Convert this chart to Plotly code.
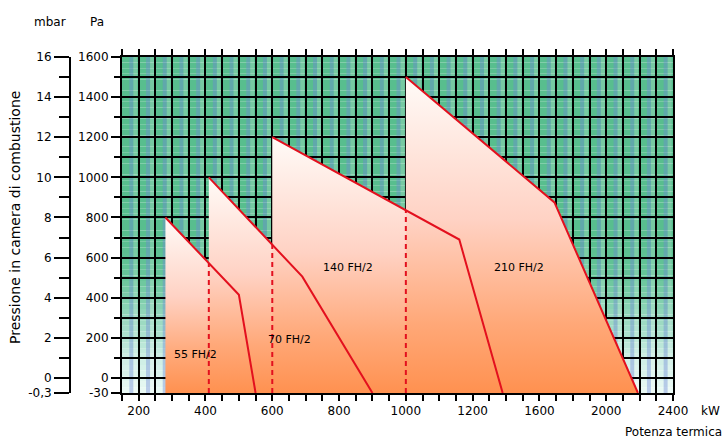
import numpy as np
import plotly.graph_objects as go

# ---------------- data ----------------
X_TICK_KW = [200, 400, 600, 800, 1000, 1200, 1600, 2000, 2400]
X_TICK_TEXT = ["200", "400", "600", "800", "1000", "1200", "1600", "2000", "2400"]
PA_TICKS = [-30, 0, 200, 400, 600, 800, 1000, 1200, 1400, 1600]
PA_TICK_TEXT = ["-30", "0", "200", "400", "600", "800", "1000", "1200", "1400", "1600"]
MBAR_TICKS = [-0.3, 0, 2, 4, 6, 8, 10, 12, 14, 16]
MBAR_TICK_TEXT = ["-0,3", "0", "2", "4", "6", "8", "10", "12", "14", "16"]

BURNERS = ["55 FH/2", "70 FH/2", "140 FH/2", "210 FH/2"]
# working fields: left edge -> top -> bend -> end (kW, Pa)
F55_KW = [280, 280, 500, 550]
F55_PA = [-30, 800, 415, -30]
F70_KW = [410, 410, 690, 900]
F70_PA = [-30, 1000, 505, -30]
F140_KW = [600, 600, 1160, 1380]
F140_PA = [-30, 1200, 690, -30]
F210_KW = [1000, 1000, 1690, 2190]
F210_PA = [-30, 1500, 875, -30]
FIELDS_KW = [F55_KW, F70_KW, F140_KW, F210_KW]
FIELDS_PA = [F55_PA, F70_PA, F140_PA, F210_PA]
LABEL_KW = [369, 653, 827, 1476]
LABEL_PA = [115, 190, 550, 550]

# ---------------- scale helpers (broken axes as in the original) ----------------
def kx(kw):
    return np.interp(np.asarray(kw, float), X_TICK_KW, np.arange(len(X_TICK_KW)))

def py(pa):
    pa = np.asarray(pa, float)
    return np.where(pa >= 0, pa, pa * 2.5)

FONT = "DejaVu Sans"
RED = "#e3101e"
fig = go.Figure()

# fills
for kw, pa in zip(FIELDS_KW, FIELDS_PA):
    xs = list(kx(kw)) + [kx(kw[0]).item()]
    ys = list(py(pa)) + [py(pa[0]).item()]
    fig.add_trace(go.Scatter(
        x=xs, y=ys, mode="lines", fill="toself", line=dict(width=0),
        fillgradient=dict(type="vertical",
                          colorscale=[[0, "#ff9150"], [0.22, "#ffa878"],
                                      [0.55, "#ffd2c4"], [1, "#fffbf8"]]),
        hoverinfo="skip", showlegend=False))

# boundaries
for i, (kw, pa) in enumerate(zip(FIELDS_KW, FIELDS_PA)):
    fig.add_trace(go.Scatter(x=kx(kw[1:]), y=py(pa[1:]), mode="lines",
                             line=dict(color=RED, width=2),
                             hoverinfo="skip", showlegend=False))
    if i > 0:
        pk, pp = FIELDS_KW[i - 1], FIELDS_PA[i - 1]
        x0 = kx(kw[0]).item()
        ytop = float(np.interp(x0, kx(pk[1:]), py(pp[1:])))
        fig.add_trace(go.Scatter(x=[x0, x0], y=[py(pa[0]).item(), ytop], mode="lines",
                                 line=dict(color=RED, width=2, dash="5px,4px"),
                                 hoverinfo="skip", showlegend=False))

# labels of burners
for name, lk, lp in zip(BURNERS, LABEL_KW, LABEL_PA):
    fig.add_annotation(x=kx(lk).item(), y=py(lp).item(), text=name, showarrow=False,
                       font=dict(family=FONT, size=11, color="black"))

# background gradient (shapes below gridlines)
stops_pa = [-75, 100, 300, 500, 700, 1600]
stops_rgb = np.array([[236, 250, 246], [205, 238, 228], [150, 216, 190],
                      [104, 198, 154], [88, 190, 142], [88, 190, 142]], float)
shapes = []
edges = np.linspace(-75, 1600, 61)
for a, b in zip(edges[:-1], edges[1:]):
    m = (a + b) / 2
    c = [np.interp(m, stops_pa, stops_rgb[:, k]) for k in range(3)]
    shapes.append(dict(type="rect", xref="x domain", yref="y", x0=0, x1=1, y0=a, y1=b,
                       layer="below", line=dict(width=0),
                       fillcolor="rgb(%d,%d,%d)" % tuple(int(v) for v in c)))
for k in range(33):
    xc = -0.25 + 0.25 * k + 0.14
    shapes.append(dict(type="rect", xref="x", yref="paper", x0=xc - 0.03, x1=xc + 0.03,
                       y0=0, y1=1, layer="below", line=dict(width=0),
                       fillcolor="rgba(110,135,215,0.40)"))
    shapes.append(dict(type="rect", xref="x", yref="paper", x0=xc + 0.03, x1=xc + 0.09,
                       y0=0, y1=1, layer="below", line=dict(width=0),
                       fillcolor="rgba(255,255,255,0.18)"))

ML, MR, MT, MB = 20, 52, 57, 48
W, H = 725, 441
PW = W - ML - MR
PH = H - MT - MB
def paper_x(px):
    return (px - ML) / PW
def paper_y(pyx):
    return (H - MB - pyx) / PH

fig.update_layout(
    width=W, height=H, margin=dict(l=ML, r=MR, t=MT, b=MB, pad=0),
    paper_bgcolor="white", plot_bgcolor="rgba(0,0,0,0)",
    font=dict(family=FONT, size=12, color="black"),
    shapes=shapes, showlegend=False,
    xaxis=dict(domain=[paper_x(122), 1], range=[-0.25, 8], tickmode="array",
               tickvals=list(range(len(X_TICK_KW))), ticktext=X_TICK_TEXT,
               ticks="outside", ticklen=6, tickwidth=1.5, tickcolor="black",
               showline=True, linecolor="black", linewidth=2, mirror="allticks",
               showgrid=True, gridcolor="black", gridwidth=2, zeroline=False,
               minor=dict(tick0=0, dtick=0.25, ticks="outside", ticklen=6,
                          tickwidth=1.5, tickcolor="black", showgrid=True,
                          gridcolor="black", gridwidth=2),
               tickfont=dict(family=FONT, size=12)),
    yaxis=dict(range=[-75, 1600], tickmode="array", tickvals=list(py(PA_TICKS)),
               ticktext=PA_TICK_TEXT, ticks="outside", ticklen=9, tickwidth=1.5,
               tickcolor="black", showline=True, linecolor="black", linewidth=2,
               mirror=True, showgrid=True, gridcolor="black", gridwidth=2,
               zeroline=False,
               minor=dict(tick0=0, dtick=100, ticks="outside", ticklen=6,
                          tickwidth=1.5, tickcolor="black", showgrid=True,
                          gridcolor="black", gridwidth=2),
               tickfont=dict(family=FONT, size=12)),
    yaxis2=dict(overlaying="y", anchor="free", position=paper_x(70), side="left",
                range=[-0.75, 16], tickmode="array",
                tickvals=list(py(np.array(MBAR_TICKS) * 100) / 100),
                ticktext=MBAR_TICK_TEXT, ticks="outside", ticklen=15, tickwidth=1.5,
                tickcolor="black", showline=True, linecolor="black", linewidth=2,
                showgrid=False, zeroline=False,
                minor=dict(tick0=0, dtick=1, ticks="outside", ticklen=10,
                           tickwidth=1.5, tickcolor="black", showgrid=False),
                tickfont=dict(family=FONT, size=12)),
)
# dummy trace on y2 so the axis renders
fig.add_trace(go.Scatter(x=[None], y=[None], yaxis="y2", showlegend=False,
                         hoverinfo="skip"))

def label(px, pyy, text, size=12, angle=0, xanchor="center"):
    fig.add_annotation(xref="paper", yref="paper", x=paper_x(px), y=paper_y(pyy),
                       xanchor=xanchor, yanchor="middle", text=text, textangle=angle,
                       showarrow=False, font=dict(family=FONT, size=size))

label(15, 218, "Pressione in camera di combustione", size=14, angle=-90)
label(50, 22, "mbar")
label(97, 22, "Pa")
label(710, 411, "kW")
label(724, 432, "Potenza termica", xanchor="right")

fig.write_html("out.html", config={"displayModeBar": False},
               post_script="document.body.style.margin='0px';document.body.style.overflow='hidden';")
